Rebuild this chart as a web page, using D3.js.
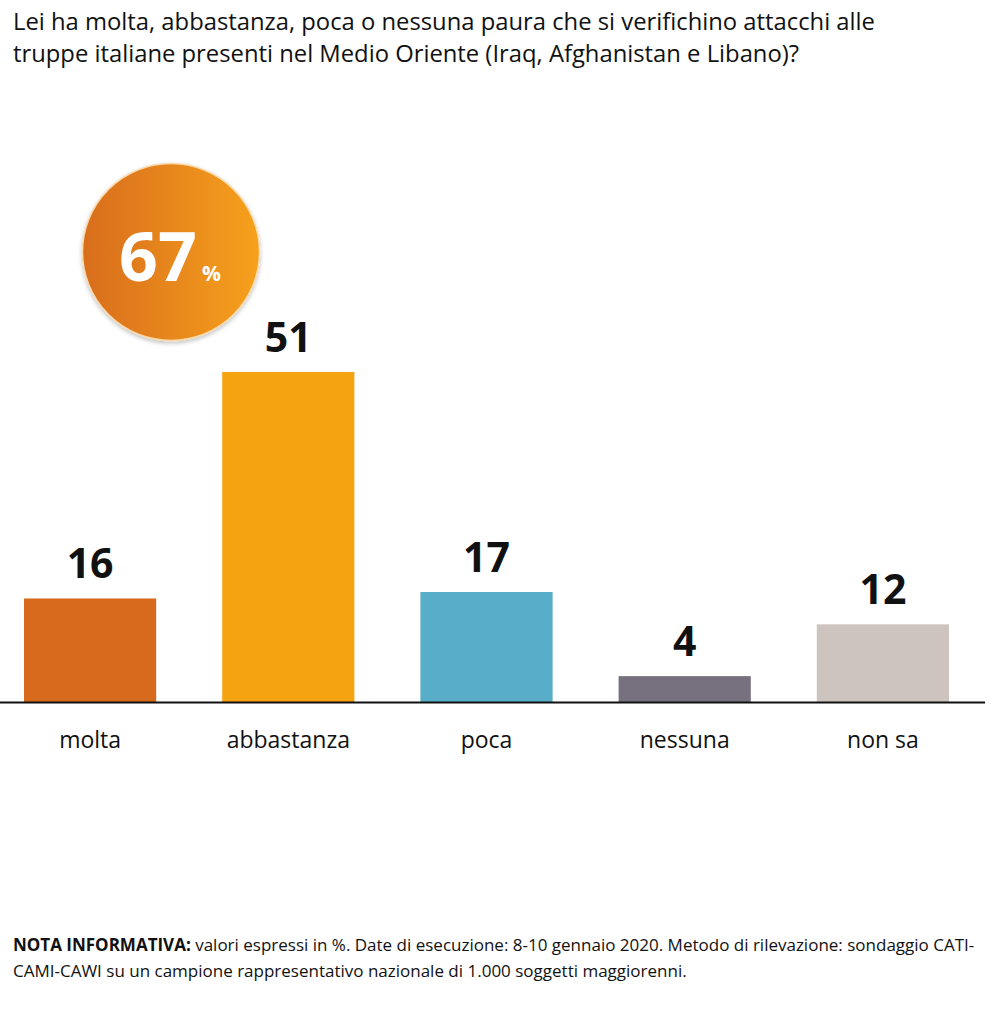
<!DOCTYPE html>
<html><head><meta charset="utf-8">
<script src="https://cdn.jsdelivr.net/npm/d3@7"></script>
<style>body{margin:0;background:#fff}</style>
</head><body>
<script>
const categories = ["molta","abbastanza","poca","nessuna","non sa"];
const values = [16,51,17,4,12];
const colors = ["#d76a1d","#f6a312","#58aec8","#76707f","#cdc4bf"];
const titleLines = ["Lei ha molta, abbastanza, poca o nessuna paura che si verifichino attacchi alle","truppe italiane presenti nel Medio Oriente (Iraq, Afghanistan e Libano)?"];
const badgeValue = 67;

const W=995,H=1014;
const svg=d3.select("body").append("svg").attr("width",W).attr("height",H);
const font="'Open Sans', sans-serif";

const defs=svg.append("defs");
const g=defs.append("linearGradient").attr("id","grad").attr("x1","0").attr("x2","1").attr("y1","0").attr("y2","0");
g.append("stop").attr("offset","0%").attr("stop-color","#d86d1f");
g.append("stop").attr("offset","100%").attr("stop-color","#f6a11c");
const f=defs.append("filter").attr("id","sh").attr("x","-20%").attr("y","-20%").attr("width","140%").attr("height","140%");
f.append("feDropShadow").attr("dx",0).attr("dy",2).attr("stdDeviation",2).attr("flood-color","#000").attr("flood-opacity",0.25);

svg.append("g").selectAll("text").data(titleLines).join("text")
  .attr("x",13).attr("y",(d,i)=>30+i*32)
  .attr("font-family",font).attr("font-size",23.8).attr("fill","#111").text(d=>d);

const x=d3.scaleBand().domain(categories).range([24,949]).paddingInner(0.333).paddingOuter(0);
const y=d3.scaleLinear().domain([0,51]).range([702,372]);

svg.append("g").selectAll("rect").data(values).join("rect")
  .attr("x",(d,i)=>x(categories[i])).attr("width",x.bandwidth())
  .attr("y",d=>y(d)).attr("height",d=>y(0)-y(d))
  .attr("fill",(d,i)=>colors[i]);

svg.append("line").attr("x1",0).attr("x2",985).attr("y1",702.5).attr("y2",702.5).attr("stroke","#111").attr("stroke-width",2);

svg.append("g").selectAll("text").data(values).join("text")
  .attr("x",(d,i)=>x(categories[i])+x.bandwidth()/2).attr("y",d=>y(d)-20)
  .attr("text-anchor","middle").attr("font-family",font).attr("font-weight","bold")
  .attr("font-size",41).attr("fill","#111").text(d=>d);

const axis=d3.axisBottom(x).tickSize(0).tickPadding(0);
const ax=svg.append("g").attr("transform","translate(0,702)").call(axis);
ax.select(".domain").remove();
ax.selectAll("text").attr("y",46).attr("dy",0).attr("font-family",font).attr("font-size",23).attr("fill","#111");

const c=svg.append("g");
c.append("circle").attr("cx",171).attr("cy",252).attr("r",88.5).attr("fill","url(#grad)").attr("stroke","#f9d9a8").attr("stroke-width",1.5).attr("filter","url(#sh)");
const t=c.append("text").attr("x",158).attr("y",281).attr("font-family",font).attr("font-weight","bold").attr("fill","#fff");
t.append("tspan").attr("font-size",68).attr("x",119).text(badgeValue);
t.append("tspan").attr("font-size",21).attr("x",202).text("%");

const foot=svg.append("g").attr("font-family",font).attr("font-size",17).attr("fill","#111");
const l1=foot.append("text").attr("x",13).attr("y",951);
l1.append("tspan").attr("font-weight","bold").text("NOTA INFORMATIVA:");
l1.append("tspan").text(" valori espressi in %. Date di esecuzione: 8-10 gennaio 2020. Metodo di rilevazione: sondaggio CATI-");
foot.append("text").attr("x",13).attr("y",977).text("CAMI-CAWI su un campione rappresentativo nazionale di 1.000 soggetti maggiorenni.");
</script>
</body></html>
